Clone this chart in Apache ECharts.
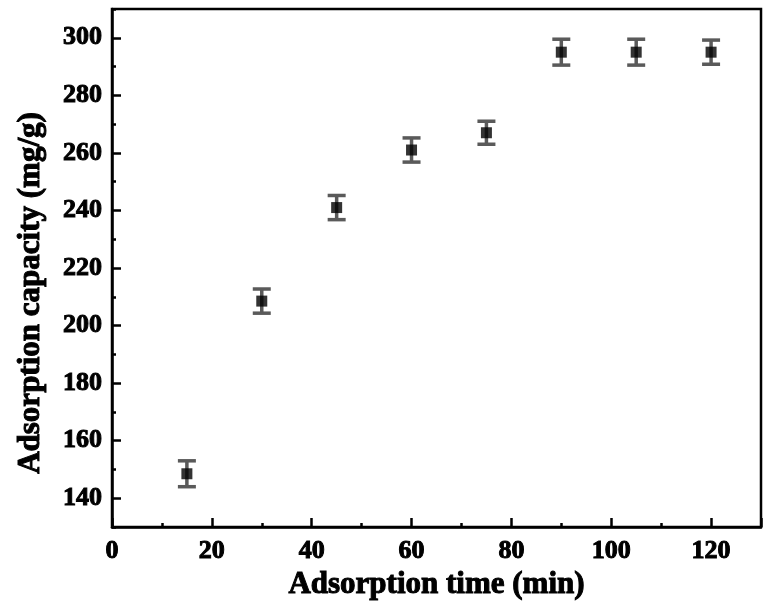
<!DOCTYPE html>
<html>
<head>
<meta charset="utf-8">
<script src="https://cdn.jsdelivr.net/npm/echarts@6/dist/echarts.min.js"></script>
<style>
  html, body { margin: 0; padding: 0; background: #fff; }
  #main { width: 764px; height: 608px; }
</style>
</head>
<body>
<div id="main"></div>
<script>
// adsorption time (min)
var times = [15, 30, 45, 60, 75, 90, 105, 120]
// adsorption capacity (mg/g)
var capacity = [148.5, 208.5, 241, 261, 267, 295, 295, 295]
// error (±)
var errors = [4.5, 4.2, 4.2, 4.2, 4, 4.5, 4.5, 4.2]
var yMajor = [140, 160, 180, 200, 220, 240, 260, 280, 300]

var chartDom = document.getElementById('main')
var myChart = echarts.init(chartDom)
var font = 'Liberation Serif'
var tickText = {
  fontFamily: font, fontWeight: 'bold', fontSize: 26, color: '#000',
  textBorderColor: '#000', textBorderWidth: 1
}
var nameText = {
  fontFamily: font, fontWeight: 'bold', fontSize: 31, color: '#000',
  textBorderColor: '#000', textBorderWidth: 1
}

var points = times.map(function (t, i) { return [t, capacity[i]] })
var bars = times.map(function (t, i) { return [t, capacity[i] - errors[i], capacity[i] + errors[i]] })

var option = {
  backgroundColor: '#fff',
  animation: false,
  grid: {
    left: 112, right: 3, top: 9, bottom: 81,
    show: true, borderColor: '#000', borderWidth: 2.5
  },
  xAxis: {
    type: 'value',
    min: 0, max: 130, interval: 20,
    name: 'Adsorption time (min)',
    nameLocation: 'middle',
    nameGap: 37,
    nameTextStyle: nameText,
    axisLine: { lineStyle: { color: '#000', width: 2.5 } },
    axisTick: { inside: true, length: 9, lineStyle: { color: '#000', width: 2.5 } },
    minorTick: { show: true, splitNumber: 2, length: 4, lineStyle: { color: '#000', width: 2.5 } },
    splitLine: { show: false },
    axisLabel: Object.assign({ showMaxLabel: false, margin: 11 }, tickText)
  },
  yAxis: [{
    type: 'value',
    min: 130, max: 310, interval: 10,
    position: 'left',
    axisLine: { lineStyle: { color: '#000', width: 2.5 } },
    axisTick: { inside: true, length: 4, lineStyle: { color: '#000', width: 2.5 } },
    splitLine: { show: false },
    axisLabel: { show: false }
  }, {
    type: 'value',
    min: 130, max: 310,
    position: 'left',
    name: 'Adsorption capacity (mg/g)',
    nameLocation: 'middle',
    nameGap: 66,
    nameTextStyle: Object.assign({ padding: [0, 50, 0, 0] }, nameText),
    axisLine: { show: false },
    axisTick: { inside: true, length: 9, customValues: yMajor, lineStyle: { color: '#000', width: 2.5 } },
    splitLine: { show: false },
    axisLabel: Object.assign({ customValues: yMajor, margin: 10 }, tickText)
  }],
  series: [{
    type: 'custom',
    yAxisIndex: 0,
    data: bars,
    renderItem: function (params, api) {
      var x = api.value(0)
      var lo = api.coord([x, api.value(1)])
      var hi = api.coord([x, api.value(2)])
      var w = 9
      var style = { stroke: '#5a5a5a', lineWidth: 3.5 }
      return {
        type: 'group',
        children: [
          { type: 'line', shape: { x1: lo[0], y1: lo[1], x2: hi[0], y2: hi[1] }, style: style },
          { type: 'line', shape: { x1: lo[0] - w, y1: lo[1], x2: lo[0] + w, y2: lo[1] }, style: style },
          { type: 'line', shape: { x1: hi[0] - w, y1: hi[1], x2: hi[0] + w, y2: hi[1] }, style: style }
        ]
      }
    },
    z: 2
  }, {
    type: 'scatter',
    yAxisIndex: 0,
    data: points,
    symbol: 'rect',
    symbolSize: 11,
    itemStyle: { color: '#000' },
    z: 3
  }]
}

myChart.setOption(option)
window.addEventListener('resize', () => myChart.resize())
</script>
</body>
</html>
